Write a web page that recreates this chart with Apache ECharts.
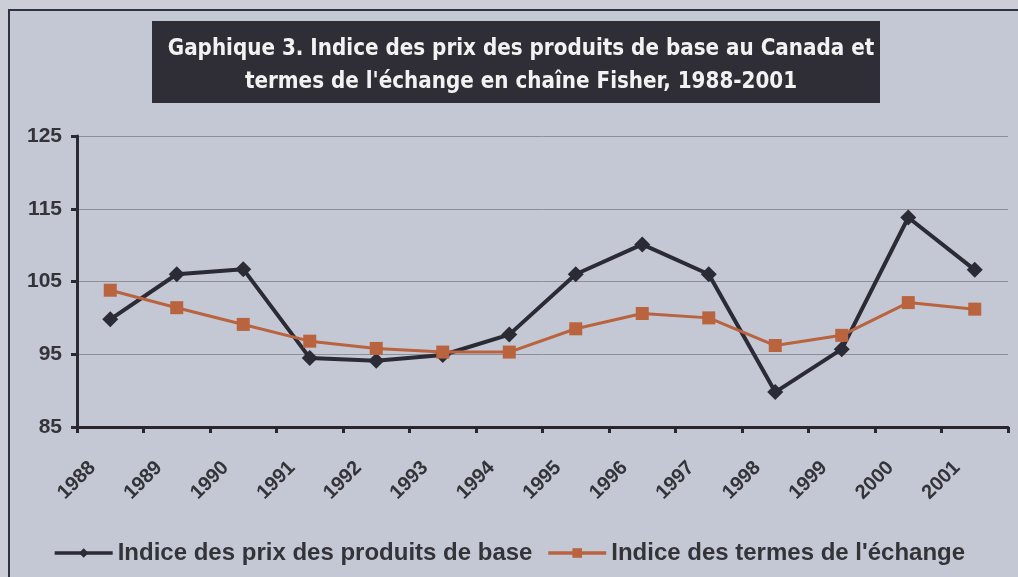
<!DOCTYPE html>
<html>
<head>
<meta charset="utf-8">
<script src="https://cdn.jsdelivr.net/npm/echarts@6/dist/echarts.min.js"></script>
<style>
  html, body { margin: 0; padding: 0; background: #cbced6; }
  #chart { width: 1018px; height: 577px; }
</style>
</head>
<body>
<div id="chart"></div>
<script>
// années
const years = ['1988', '1989', '1990', '1991', '1992', '1993', '1994',
  '1995', '1996', '1997', '1998', '1999', '2000', '2001']
// Indice des prix des produits de base
const prixBase = [99.8, 106.0, 106.7, 94.5, 94.1, 94.9, 97.7,
  106.0, 110.1, 106.0, 89.8, 95.7, 113.8, 106.6]
// Indice des termes de l'échange
const termesEchange = [103.8, 101.4, 99.1, 96.8, 95.8, 95.3, 95.3,
  98.5, 100.6, 100.0, 96.2, 97.6, 102.1, 101.2]
const titleLines = ['Gaphique 3. Indice des prix des produits de base au Canada et',
  "termes de l'échange en chaîne Fisher, 1988-2001"]

const chart = echarts.init(document.getElementById('chart'))
const dark = '#2b2b36'
const orange = '#b9633f'
const labelFont = 'Liberation Sans, Arial, sans-serif'

chart.setOption({
  backgroundColor: '#cbced6',
  animation: false,
  graphic: [
    {
      // cadre
      type: 'rect',
      z: -10,
      shape: { x: 9, y: 10, width: 1100, height: 700 },
      style: { fill: '#c3c8d4', stroke: '#2f3242', lineWidth: 2 }
    },
    {
      // fond du titre
      type: 'rect',
      z: -5,
      shape: { x: 152, y: 21, width: 728, height: 82 },
      style: { fill: '#2f2e36' }
    }
  ],
  title: {
    text: titleLines.join('\n'),
    left: 516,
    top: 28,
    textAlign: 'center',
    textStyle: {
      color: '#f2f2f2',
      fontFamily: 'DejaVu Sans Condensed, Liberation Sans Narrow, sans-serif',
      fontWeight: 'bold',
      fontSize: 22.2,
      lineHeight: 33
    }
  },
  grid: {
    left: 77,
    right: 10,
    top: 136,
    bottom: 150
  },
  legend: {
    bottom: 7,
    left: 'center',
    itemWidth: 58,
    itemHeight: 12,
    itemGap: 14,
    lineStyle: { width: 3.5 },
    textStyle: {
      fontFamily: labelFont,
      fontWeight: 'bold',
      fontSize: 24,
      color: '#333338'
    },
    data: ['Indice des prix des produits de base', "Indice des termes de l'échange"]
  },
  xAxis: {
    type: 'category',
    data: years,
    boundaryGap: true,
    axisLine: { lineStyle: { color: '#2a262c', width: 3 } },
    axisTick: { show: true, length: 6, lineStyle: { color: '#2a262c', width: 3 } },
    axisLabel: {
      rotate: 45,
      margin: 20,
      padding: [0, 25, 0, 0],
      fontFamily: labelFont,
      fontWeight: 'bold',
      fontSize: 20,
      color: '#333338'
    },
    splitLine: { show: false }
  },
  yAxis: {
    type: 'value',
    min: 85,
    max: 125,
    interval: 10,
    axisLine: { show: true, lineStyle: { color: '#2a2a34', width: 3 } },
    axisTick: { show: true, length: 6, lineStyle: { color: '#2a2a34', width: 3 } },
    axisLabel: {
      margin: 15,
      fontFamily: labelFont,
      fontWeight: 'bold',
      fontSize: 21,
      color: '#333338'
    },
    splitLine: { lineStyle: { color: '#8e8f96', width: 1 } }
  },
  series: [
    {
      name: 'Indice des prix des produits de base',
      type: 'line',
      data: prixBase,
      symbol: 'diamond',
      symbolSize: 16,
      itemStyle: { color: dark },
      lineStyle: { color: dark, width: 4 },
      z: 3
    },
    {
      name: "Indice des termes de l'échange",
      type: 'line',
      data: termesEchange,
      symbol: 'rect',
      symbolSize: 13,
      itemStyle: { color: orange },
      lineStyle: { color: orange, width: 3 },
      z: 4
    }
  ]
})
</script>
</body>
</html>
